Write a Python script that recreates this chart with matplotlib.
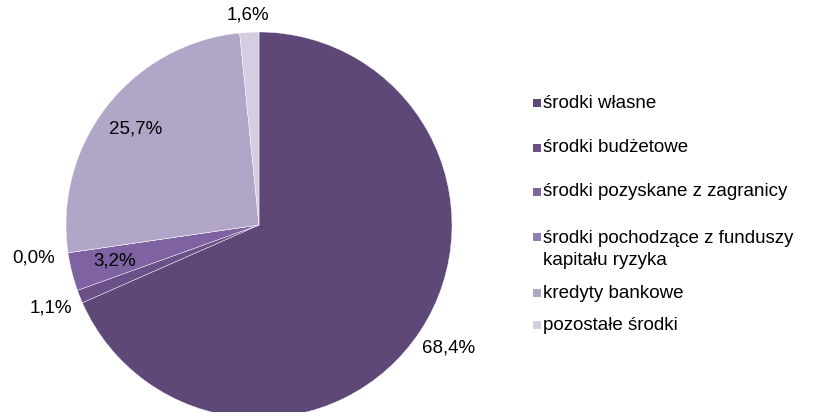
import matplotlib.pyplot as plt
import numpy as np
from matplotlib.patches import Rectangle

categories = ["środki własne", "środki budżetowe", "środki pozyskane z zagranicy",
              "środki pochodzące z funduszy\nkapitału ryzyka", "kredyty bankowe", "pozostałe środki"]
values = [68.4, 1.1, 3.2, 0.0, 25.7, 1.6]
colors = ["#5D4877", "#6B5088", "#7F62A2", "#9081B3", "#B1A6C7", "#D5CEE2"]

# radial position of each percentage label (fraction of radius)
label_r = [1.17, 1.16, 0.77, 1.18, 0.81, 1.09]

plt.rcParams['font.family'] = ['Liberation Sans', 'DejaVu Sans']

fig = plt.figure(figsize=(8.19, 4.12), dpi=100)
W, H = 819, 412
cx, cy, R = 259, 225, 193
ax = fig.add_axes([(cx - R) / W, (H - cy - R) / H, 2 * R / W, 2 * R / H])
wedges, _ = ax.pie(values, colors=colors, startangle=90, counterclock=False,
                   radius=1, wedgeprops=dict(edgecolor="#ffffff", linewidth=0.3))
ax.set_xlim(-1, 1)
ax.set_ylim(-1, 1)
ax.set_aspect("equal")
ax.axis("off")

for w, v, r in zip(wedges, values, label_r):
    ang = np.deg2rad((w.theta1 + w.theta2) / 2)
    ax.text(r * np.cos(ang), r * np.sin(ang), f"{v:.1f}%".replace(".", ","),
            ha="center", va="center", fontsize=13.5, color="black", clip_on=False)

# legend drawn by hand to follow the original spacing
leg_y = [103, 148, 192, 237, 293, 325]
for lab, c, y in zip(categories, colors, leg_y):
    fig.patches.append(Rectangle((533 / W, (H - y - 4) / H), 8 / W, 8 / H,
                                 transform=fig.transFigure, facecolor=c, edgecolor="none"))
    if "\n" in lab:
        fig.text(543 / W, (H - y + 7) / H, lab, ha="left", va="top",
                 fontsize=13.5, color="black", linespacing=1.35)
    else:
        fig.text(543 / W, (H - y) / H, lab, ha="left", va="center",
                 fontsize=13.5, color="black")

fig.savefig("out.png", dpi=100)
